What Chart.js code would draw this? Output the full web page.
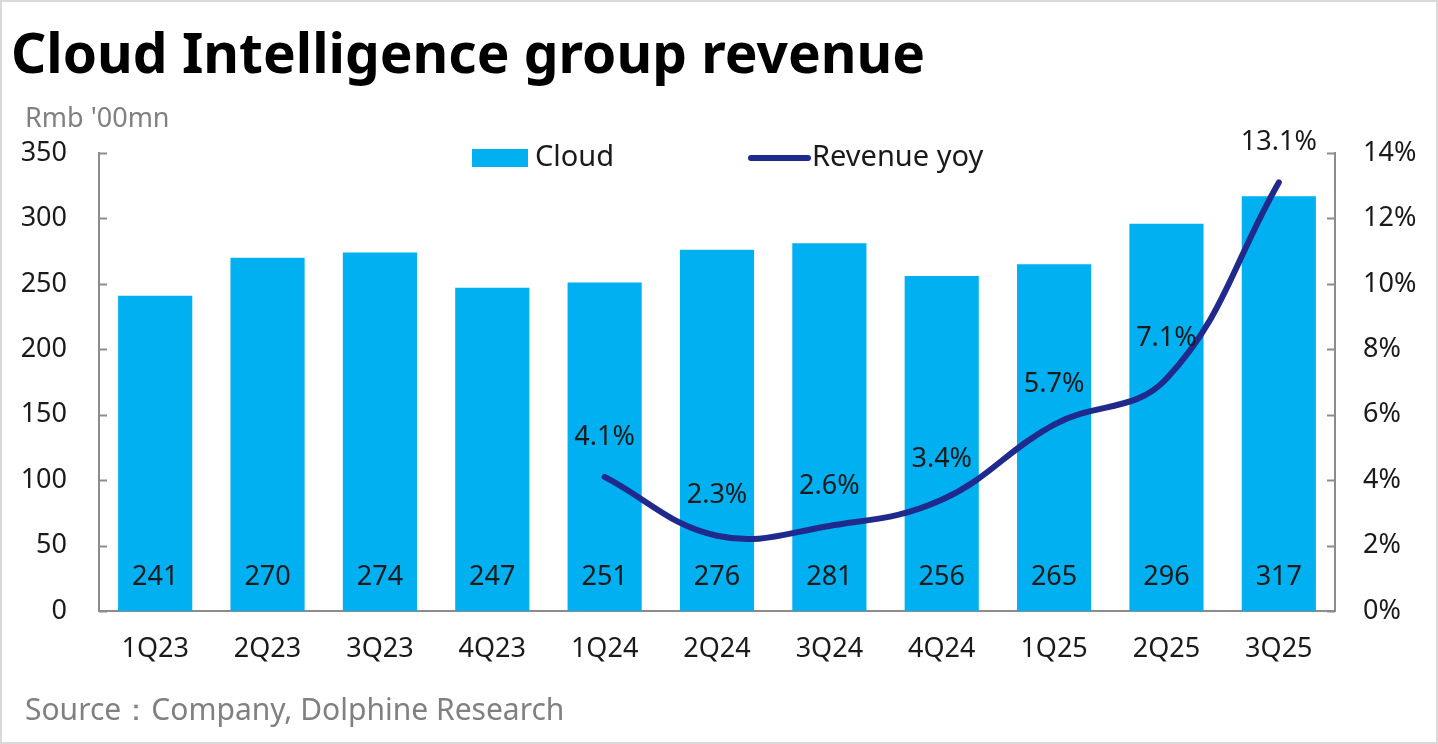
<!DOCTYPE html>
<html lang="en">
<head>
    <meta charset="UTF-8">
    <title>Cloud Intelligence group revenue</title>
    <script src="https://cdn.jsdelivr.net/npm/chart.js"></script>
    <style>
        html, body {
            margin: 0;
            padding: 0;
            background: #fff;
        }
        .frame {
            position: relative;
            width: 1438px;
            height: 744px;
            box-sizing: border-box;
            border: 2px solid #d9d9d9;
            overflow: hidden;
            font-family: "Noto Sans", "Open Sans", sans-serif;
        }
        .title {
            position: absolute;
            left: 9px;
            top: 12px;
            font-size: 55px;
            font-weight: 700;
            color: #000;
        }
        .unit {
            position: absolute;
            left: 23px;
            top: 96px;
            font-size: 27px;
            color: #808080;
        }
        .source {
            position: absolute;
            left: 23px;
            top: 686px;
            font-size: 30px;
            color: #808080;
        }
        .chart-box {
            position: absolute;
            left: 0;
            top: 0;
            width: 1434px;
            height: 740px;
        }
    </style>
</head>
<body>
    <div class="frame">
        <div class="chart-box"><canvas id="cloudChart"></canvas></div>
        <div class="title">Cloud Intelligence group revenue</div>
        <div class="unit">Rmb '00mn</div>
        <div class="source">Source：Company, Dolphine Research</div>
    </div>

    <script>
        // données
        const quarters = ['1Q23', '2Q23', '3Q23', '4Q23', '1Q24', '2Q24', '3Q24', '4Q24', '1Q25', '2Q25', '3Q25'];
        const cloudRevenue = [241, 270, 274, 247, 251, 276, 281, 256, 265, 296, 317];
        const revenueYoy = [null, null, null, null, 4.1, 2.3, 2.6, 3.4, 5.7, 7.1, 13.1];
        const leftTicks = [0, 50, 100, 150, 200, 250, 300, 350];
        const rightTicks = [0, 2, 4, 6, 8, 10, 12, 14];

        const barColor = '#00b0f0';
        const lineColor = '#1f2a8c';
        const axisColor = '#8c8c8c';
        const fontFamily = '"Noto Sans", "Open Sans", sans-serif';

        // étiquettes, légende et petits traits d'axe
        const overlayPlugin = {
            id: 'overlay',
            afterDatasetsDraw(chart) {
                const ctx = chart.ctx;
                const area = chart.chartArea;
                const yL = chart.scales.y;
                const yR = chart.scales.y1;

                ctx.save();
                // traits vers l'intérieur
                ctx.strokeStyle = axisColor;
                ctx.lineWidth = 2;
                leftTicks.forEach(v => {
                    const py = Math.round(yL.getPixelForValue(v)) + 0.5;
                    ctx.beginPath();
                    ctx.moveTo(area.left, py);
                    ctx.lineTo(area.left + 8, py);
                    ctx.stroke();
                });
                rightTicks.forEach(v => {
                    const py = Math.round(yR.getPixelForValue(v)) + 0.5;
                    ctx.beginPath();
                    ctx.moveTo(area.right, py);
                    ctx.lineTo(area.right - 8, py);
                    ctx.stroke();
                });

                // valeurs des barres
                ctx.fillStyle = '#1a1a1a';
                ctx.font = '27px ' + fontFamily;
                ctx.textAlign = 'center';
                ctx.textBaseline = 'middle';
                const barMeta = chart.getDatasetMeta(0);
                barMeta.data.forEach((bar, i) => {
                    ctx.fillText(String(cloudRevenue[i]), bar.x, area.bottom - 34);
                });

                // valeurs de la courbe
                const lineMeta = chart.getDatasetMeta(1);
                lineMeta.data.forEach((pt, i) => {
                    if (revenueYoy[i] === null) return;
                    ctx.fillText(revenueYoy[i].toFixed(1) + '%', pt.x, pt.y - 40);
                });

                // légende
                const ly = 156;
                ctx.fillStyle = barColor;
                ctx.fillRect(470, ly - 9, 56, 18);
                ctx.fillStyle = '#1a1a1a';
                ctx.textAlign = 'left';
                ctx.font = '29px ' + fontFamily;
                ctx.fillText(chart.data.datasets[0].label, 533, ly);
                ctx.strokeStyle = lineColor;
                ctx.lineWidth = 6;
                ctx.lineCap = 'round';
                ctx.beginPath();
                ctx.moveTo(749, ly);
                ctx.lineTo(806, ly);
                ctx.stroke();
                ctx.fillText(chart.data.datasets[1].label, 810, ly);
                ctx.restore();
            }
        };

        const ctxCloud = document.getElementById('cloudChart').getContext('2d');
        const cloudChart = new Chart(ctxCloud, {
            type: 'bar',
            data: {
                labels: quarters,
                datasets: [{
                    type: 'bar',
                    label: 'Cloud',
                    data: cloudRevenue,
                    backgroundColor: barColor,
                    categoryPercentage: 1,
                    barPercentage: 0.66,
                    yAxisID: 'y',
                    order: 2
                }, {
                    type: 'line',
                    label: 'Revenue yoy',
                    data: revenueYoy,
                    borderColor: lineColor,
                    borderWidth: 6,
                    borderCapStyle: 'round',
                    tension: 0.4,
                    pointRadius: 0,
                    spanGaps: false,
                    yAxisID: 'y1',
                    order: 1
                }]
            },
            options: {
                responsive: true,
                maintainAspectRatio: false,
                animation: false,
                layout: {
                    padding: { top: 151, bottom: 0, left: 0, right: 0 }
                },
                plugins: {
                    legend: { display: false },
                    tooltip: { enabled: false }
                },
                scales: {
                    x: {
                        grid: { display: false, drawTicks: false },
                        border: { color: axisColor, width: 2 },
                        ticks: {
                            color: '#1a1a1a',
                            font: { size: 27, family: fontFamily },
                            padding: 22
                        },
                        afterFit(scale) { scale.height = 131; }
                    },
                    y: {
                        position: 'left',
                        min: 0,
                        max: 350,
                        afterBuildTicks(scale) { scale.ticks = leftTicks.map(v => ({ value: v })); },
                        grid: { display: false, drawTicks: false },
                        border: { color: axisColor, width: 2 },
                        ticks: {
                            color: '#1a1a1a',
                            font: { size: 27, family: fontFamily },
                            padding: 32
                        },
                        afterFit(scale) { scale.width = 97; }
                    },
                    y1: {
                        position: 'right',
                        min: 0,
                        max: 14,
                        afterBuildTicks(scale) { scale.ticks = rightTicks.map(v => ({ value: v })); },
                        grid: { display: false, drawTicks: false },
                        border: { color: axisColor, width: 2 },
                        ticks: {
                            color: '#1a1a1a',
                            font: { size: 27, family: fontFamily },
                            padding: 28,
                            callback: v => v + '%'
                        },
                        afterFit(scale) { scale.width = 101; }
                    }
                }
            },
            plugins: [overlayPlugin]
        });
    </script>
</body>
</html>
